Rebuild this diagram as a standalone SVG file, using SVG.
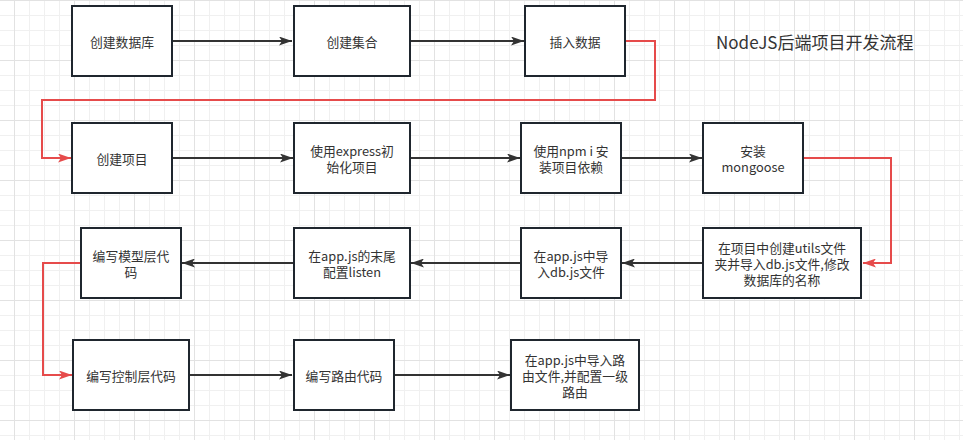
<svg xmlns="http://www.w3.org/2000/svg" width="963" height="440" viewBox="0 0 963 440">
<defs>
<pattern id="grid" patternUnits="userSpaceOnUse" x="14" y="0" width="60" height="60">
<path d="M15.5,0V60M30.5,0V60M45.5,0V60M0,15.5H60M0,30.5H60M0,45.5H60" stroke="#f0f0f0" stroke-width="1" fill="none"/>
<path d="M0.5,0V60M0,0.5H60" stroke="#e2e2e2" stroke-width="1" fill="none"/>
</pattern>
<marker id="ab" viewBox="0 0 13 9" refX="13" refY="4.5" markerWidth="13" markerHeight="9" markerUnits="userSpaceOnUse" orient="auto">
<path d="M0,0L13,4.5L0,9L3,4.5Z" fill="#333"/>
</marker>
<marker id="ar" viewBox="0 0 13 9" refX="13" refY="4.5" markerWidth="13" markerHeight="9" markerUnits="userSpaceOnUse" orient="auto">
<path d="M0,0L13,4.5L0,9L3,4.5Z" fill="#e64b4b"/>
</marker>
</defs>
<style>
.box{fill:#fff;stroke:#1f262e;stroke-width:2}
.t{font-family:"Noto Sans CJK SC","Noto Sans",sans-serif;font-size:12.8px;fill:#333;text-anchor:middle;dominant-baseline:central}
.title{font-family:"Noto Sans CJK SC","Noto Sans",sans-serif;font-size:17px;fill:#333}
.cb{fill:none;stroke:#333;stroke-width:2;marker-end:url(#ab)}
.cr{fill:none;stroke:#e64b4b;stroke-width:2;marker-end:url(#ar)}
</style>
<rect x="0" y="0" width="963" height="440" fill="#fff"/>
<rect x="0" y="0" width="963" height="440" fill="url(#grid)"/>

<g id="connectors">
<path class="cb" d="M172,41H292"/>
<path class="cb" d="M410,41H524"/>
<path class="cr" d="M625,41H655V100H42V158H71"/>
<path class="cb" d="M172,158H293"/>
<path class="cb" d="M410,158H520"/>
<path class="cb" d="M621,158H702"/>
<path class="cr" d="M803,158H891V263H863"/>
<path class="cb" d="M703,263H622"/>
<path class="cb" d="M521,263H411"/>
<path class="cr" d="M81,263H43V375H72"/>
<path class="cb" d="M294,263H182"/>
<path class="cb" d="M189,375H292"/>
<path class="cb" d="M394,375H510"/>
</g>

<g id="n1"><rect class="box" x="72" y="6" width="100" height="70"/><text class="t" x="122" y="41">创建数据库</text></g>
<g id="n2"><rect class="box" x="294" y="6" width="116" height="70"/><text class="t" x="352" y="41">创建集合</text></g>
<g id="n3"><rect class="box" x="525" y="6" width="100" height="70"/><text class="t" x="575" y="41">插入数据</text></g>

<g id="n4"><rect class="box" x="72" y="123" width="100" height="70"/><text class="t" x="122" y="158">创建项目</text></g>
<g id="n5"><rect class="box" x="294" y="123" width="116" height="70"/><text class="t" x="352" y="150"><tspan x="352" y="150">使用express初</tspan><tspan x="352" y="166">始化项目</tspan></text></g>
<g id="n6"><rect class="box" x="521" y="123" width="100" height="70"/><text class="t" x="571" y="150"><tspan x="571" y="150">使用npm i 安</tspan><tspan x="571" y="166">装项目依赖</tspan></text></g>
<g id="n7"><rect class="box" x="703" y="123" width="100" height="70"/><text class="t" x="753" y="150"><tspan x="753" y="150">安装</tspan><tspan x="753" y="166">mongoose</tspan></text></g>

<g id="n8"><rect class="box" x="703" y="228" width="158" height="70"/><text class="t" x="782" y="247"><tspan x="782" y="247">在项目中创建utils文件</tspan><tspan x="782" y="263">夹并导入db.js文件,修改</tspan><tspan x="782" y="279">数据库的名称</tspan></text></g>
<g id="n9"><rect class="box" x="521" y="228" width="100" height="70"/><text class="t" x="571" y="255"><tspan x="571" y="255">在app.js中导</tspan><tspan x="571" y="271">入db.js文件</tspan></text></g>
<g id="n10"><rect class="box" x="294" y="228" width="116" height="70"/><text class="t" x="352" y="255"><tspan x="352" y="255">在app.js的末尾</tspan><tspan x="352" y="271">配置listen</tspan></text></g>
<g id="n11"><rect class="box" x="81" y="228" width="100" height="70"/><text class="t" x="131" y="255"><tspan x="131" y="255">编写模型层代</tspan><tspan x="131" y="271">码</tspan></text></g>

<g id="n12"><rect class="box" x="73" y="340" width="116" height="70"/><text class="t" x="131" y="375">编写控制层代码</text></g>
<g id="n13"><rect class="box" x="294" y="340" width="100" height="70"/><text class="t" x="344" y="375">编写路由代码</text></g>
<g id="n14"><rect class="box" x="511" y="340" width="128" height="70"/><text class="t" x="575" y="359"><tspan x="575" y="359">在app.js中导入路</tspan><tspan x="575" y="375">由文件,并配置一级</tspan><tspan x="575" y="391">路由</tspan></text></g>

<text class="title" x="716" y="49">NodeJS后端项目开发流程</text>
</svg>
